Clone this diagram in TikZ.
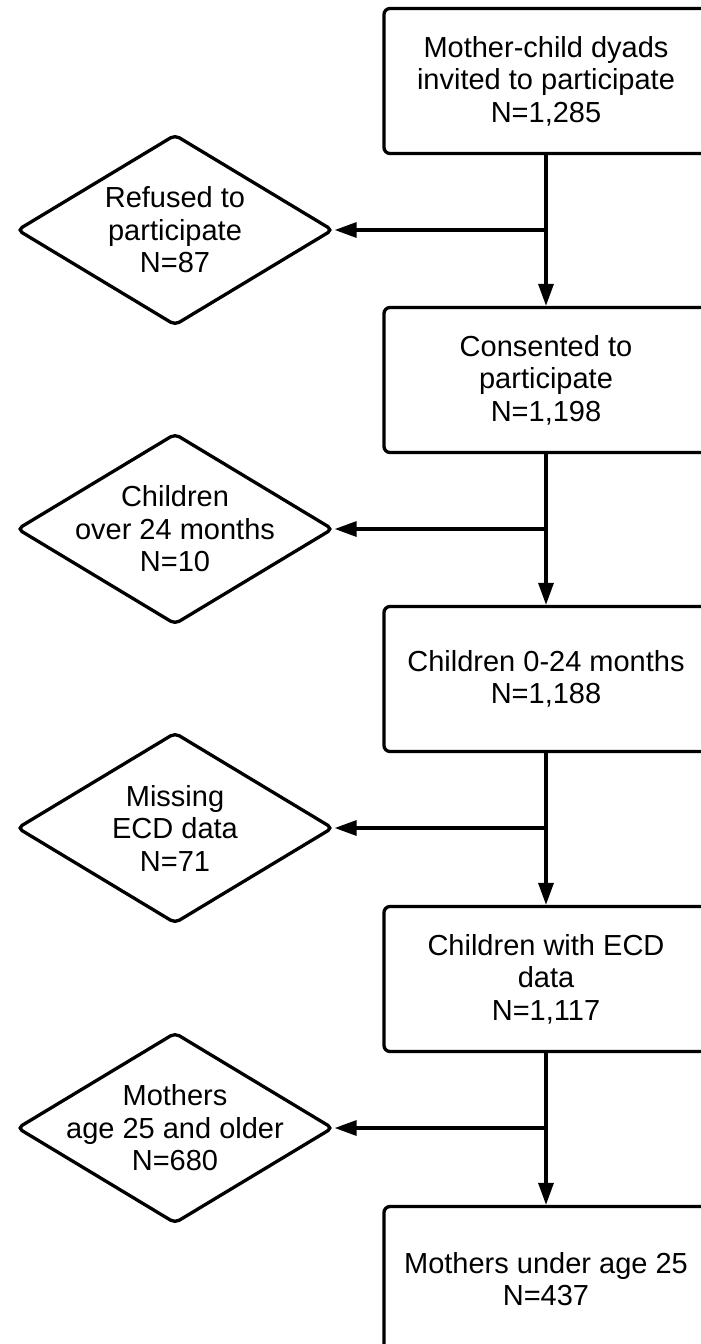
\documentclass[tikz,border=0pt]{standalone}
\usepackage{fontspec}
\setmainfont{Liberation Sans}
\usetikzlibrary{shapes.geometric, arrows.meta, positioning}

\begin{document}
\begin{tikzpicture}[
  x=1pt, y=-1pt,
  font=\fontsize{29}{32.5}\selectfont,
  stage/.style={
    draw, rounded corners=6pt, line width=3.3pt,
    minimum width=324pt,
    minimum height=145pt,
    align=center, inner sep=4pt
  },
  excl/.style={
    diamond, draw, rounded corners=5pt,
    line width=3.3pt,
    minimum width=316pt,
    minimum height=191pt,
    inner sep=0pt
  },
  excltext/.style={
    align=center, inner sep=0pt},
  arrow/.style={
    -{Triangle[length=22pt,width=15pt]},
    line width=3.3pt}
]
\useasboundingbox (0,0) rectangle (701,1344);

\node[stage] (invited) at (546,81)
  {Mother-child dyads\\invited to participate\\N=1,285};
\node[stage] (consented) at (546,380)
  {Consented to\\participate\\N=1,198};
\node[stage] (young) at (546,679)
  {Children 0-24 months\\N=1,188};
\node[stage] (ecd) at (546,979)
  {Children with ECD\\data\\N=1,117};
\node[stage] (under) at (546,1279)
  {Mothers under age 25\\N=437};

\node[excl] (refused) at (175,230) {};
\node[excltext] (refusedtxt) at (refused)
  {Refused to\\participate\\N=87};
\node[excl] (older) at (175,529) {};
\node[excltext] (oldertxt) at (older)
  {Children\\over 24 months\\N=10};
\node[excl] (missing) at (175,828) {};
\node[excltext] (missingtxt) at (missing)
  {Missing\\ECD data\\N=71};
\node[excl] (mothers) at (175,1128) {};
\node[excltext] (motherstxt) at (mothers)
  {Mothers\\age 25 and older\\N=680};

\coordinate (j1) at (invited.south |- refused.east);
\coordinate (j2) at (consented.south |- older.east);
\coordinate (j3) at (young.south |- missing.east);
\coordinate (j4) at (ecd.south |- mothers.east);

\draw[arrow] (invited) -- (consented);
\draw[arrow] (consented) -- (young);
\draw[arrow] (young) -- (ecd);
\draw[arrow] (ecd) -- (under);

\draw[arrow] (j1) -- (refused.east);
\draw[arrow] (j2) -- (older.east);
\draw[arrow] (j3) -- (missing.east);
\draw[arrow] (j4) -- (mothers.east);
\end{tikzpicture}
\end{document}
